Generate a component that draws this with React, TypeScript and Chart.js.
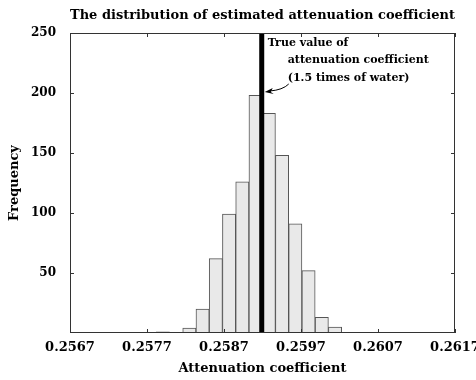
import React, { useEffect, useRef } from "react";
import { Chart, registerables } from "chart.js";

Chart.register(...registerables);

// Histogram bins (centers) and counts
const binCenters = [0.257906, 0.258078, 0.25825, 0.258422, 0.258594, 0.258766, 0.258938, 0.25911, 0.259282, 0.259454, 0.259626, 0.259798, 0.25997, 0.260142];
const counts = [1, 0, 4, 20, 62, 99, 126, 198, 183, 148, 91, 52, 13, 5];
const xTicks = [0.2567, 0.2577, 0.2587, 0.2597, 0.2607, 0.2617];
const yTicks = [50, 100, 150, 200, 250];
const trueValue = 0.25919;
const annotationLines = ["True value of", "attenuation coefficient", "(1.5 times of water)"];
const titleText = "The distribution of estimated attenuation coefficient";
const xLabel = "Attenuation coefficient";
const yLabel = "Frequency";

const FONT = "'DejaVu Serif', 'Liberation Serif', serif";

const boxPlugin = {
  id: "boxTicks",
  afterDatasetsDraw(chart: any) {
    const { ctx, chartArea } = chart;
    const { left, right, top, bottom } = chartArea;
    const xs = chart.scales.x;
    const ys = chart.scales.y;
    ctx.save();
    // true value line
    const lx = xs.getPixelForValue(trueValue);
    ctx.fillStyle = "#000";
    ctx.fillRect(lx - 2.5, top, 5, bottom - top);

    // box
    ctx.strokeStyle = "#333";
    ctx.lineWidth = 1;
    ctx.strokeRect(left + 0.5, top + 0.5, right - left - 1, bottom - top - 1);
    // inward ticks
    const tl = 4;
    ctx.beginPath();
    xTicks.forEach((v) => {
      const px = Math.round(xs.getPixelForValue(v)) + 0.5;
      ctx.moveTo(px, bottom);
      ctx.lineTo(px, bottom - tl);
      ctx.moveTo(px, top);
      ctx.lineTo(px, top + tl);
    });
    yTicks.forEach((v) => {
      const py = Math.round(ys.getPixelForValue(v)) + 0.5;
      ctx.moveTo(left, py);
      ctx.lineTo(left + tl, py);
      ctx.moveTo(right, py);
      ctx.lineTo(right - tl, py);
    });
    ctx.stroke();

    // annotation text
    ctx.fillStyle = "#000";
    ctx.font = `bold 11px ${FONT}`;
    ctx.textBaseline = "middle";
    ctx.textAlign = "left";
    const offs = [6, 26, 26];
    annotationLines.forEach((t, i) => {
      ctx.fillText(t, lx + offs[i], top + 10 + i * 17.5);
    });
    // curved arrow
    const sx = lx + 27, sy = top + 51;
    const ex = lx + 3, ey = top + 59;
    ctx.strokeStyle = "#000";
    ctx.lineWidth = 1;
    ctx.beginPath();
    ctx.moveTo(sx, sy);
    ctx.quadraticCurveTo(lx + 21, top + 57, ex + 5, ey - 1);
    ctx.stroke();
    // arrowhead
    ctx.beginPath();
    ctx.moveTo(ex, ey);
    ctx.lineTo(ex + 8, ey - 4);
    ctx.lineTo(ex + 6, ey);
    ctx.lineTo(ex + 9, ey + 2);
    ctx.closePath();
    ctx.fill();
    ctx.restore();
  },
};

export default function App() {
  const ref = useRef<HTMLCanvasElement | null>(null);
  useEffect(() => {
    document.body.style.margin = "0";
    const canvas = ref.current!;
    const chart = new Chart(canvas, {
      type: "bar",
      data: {
        datasets: [
          {
            data: binCenters.map((x, i) => ({ x, y: counts[i] })),
            backgroundColor: "#e9e9e9",
            borderColor: "#555",
            borderWidth: 1,
            barPercentage: 1,
            categoryPercentage: 1,
          } as any,
        ],
      },
      options: {
        responsive: false,
        animation: false,
        devicePixelRatio: 1,
        layout: { padding: { left: 0, right: 21, top: 0, bottom: 0 } },
        plugins: {
          legend: { display: false },
          tooltip: { enabled: false },
          title: {
            display: true,
            fullSize: false,
            text: titleText,
            color: "#000",
            font: { family: FONT, size: 13, weight: "bold" },
            padding: { top: 8, bottom: 9.4 },
          },
        },
        scales: {
          x: {
            type: "linear",
            min: 0.2567,
            max: 0.2617,
            offset: false,
            grid: { display: false, drawTicks: false },
            border: { display: false },
            afterBuildTicks: (s: any) => {
              s.ticks = xTicks.map((v) => ({ value: v }));
            },
            afterFit: (s: any) => {
              s.height = 47;
              s.paddingLeft = 0;
              s.paddingRight = 0;
            },
            ticks: {
              color: "#000",
              font: { family: FONT, size: 13, weight: "bold" },
              padding: 7,
              maxRotation: 0,
              autoSkip: false,
              callback: (v: any) => Number(v).toFixed(4),
            },
            title: {
              display: true,
              text: xLabel,
              color: "#000",
              font: { family: FONT, size: 13, weight: "bold" },
              padding: { top: 0, bottom: 4 },
            },
          },
          y: {
            min: 0,
            max: 250,
            grid: { display: false, drawTicks: false },
            border: { display: false },
            afterBuildTicks: (s: any) => {
              s.ticks = yTicks.map((v) => ({ value: v }));
            },
            afterFit: (s: any) => {
              s.width = 70;
              s.paddingTop = 0;
              s.paddingBottom = 0;
            },
            ticks: {
              color: "#000",
              font: { family: FONT, size: 12, weight: "bold" },
              padding: 14,
              autoSkip: false,
            },
            title: {
              display: true,
              text: yLabel,
              color: "#000",
              font: { family: FONT, size: 13, weight: "bold" },
              padding: { top: 7, bottom: 0 },
            },
          },
        },
      },
      plugins: [boxPlugin],
    });
    return () => chart.destroy();
  }, []);
  return (
    <div style={{ position: "absolute", left: 0, top: 0, width: 476, height: 380, background: "#fff" }}>
      <canvas ref={ref} width={476} height={380} />
    </div>
  );
}
